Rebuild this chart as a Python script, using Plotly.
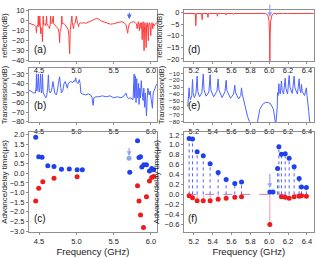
import plotly.graph_objects as go
from plotly.subplots import make_subplots

FONT = "Liberation Sans, Arial, sans-serif"

# ---------------- (a) reflection, left band ----------------
a_freq = [4.365, 4.40, 4.44, 4.458, 4.465, 4.472, 4.484, 4.49, 4.496, 4.504, 4.51, 4.516, 4.522, 4.528,
          4.538, 4.545, 4.55, 4.555, 4.56, 4.575, 4.59, 4.60, 4.606, 4.62, 4.632, 4.64, 4.648, 4.655,
          4.66, 4.672, 4.69, 4.696, 4.71, 4.73, 4.755, 4.768, 4.775, 4.782, 4.79, 4.798, 4.805, 4.812,
          4.83, 4.85, 4.87, 4.89, 4.90, 4.91, 4.918, 4.928, 4.94, 4.946, 4.955, 4.962, 4.97, 4.985,
          5.0, 5.006, 5.015, 5.025, 5.03, 5.036, 5.05, 5.07, 5.10, 5.13, 5.16, 5.20, 5.24, 5.27, 5.30,
          5.34, 5.38, 5.42, 5.46, 5.50, 5.53, 5.57, 5.61, 5.64, 5.665, 5.68, 5.688, 5.695, 5.71, 5.74,
          5.77, 5.79, 5.805, 5.815, 5.822, 5.83, 5.838, 5.845, 5.852, 5.86, 5.868, 5.875, 5.882, 5.888,
          5.895, 5.902, 5.908, 5.914, 5.92, 5.928, 5.935, 5.942, 5.95, 5.958, 5.965, 5.972, 5.98, 5.99,
          5.998, 6.005, 6.015, 6.025, 6.032, 6.045, 6.06, 6.08]
a_refl = [-2.5, -3.5, -4.5, -6, -12, -5, -5, 4.7, -6, -5, 4.7, -7, -13, -7,
          -10, -21, -9, 4.7, -4, -3, -5, 4.7, -3, -5, -6, -8, -4, 4.7,
          -2, -3, 4.7, -3, -4, -6, -8, -12, -22, -10, -10, -5, 4.7, -3,
          -3, -4, -6, -9, -15, -33, -10, -3, 4.7, -2, -5, -8, -3, -2,
          4.7, -2, -3, -4, -6, -3, -2, -2.5, -2, -2.5, -1.5, -0.5, 1, 2.3, 1.5,
          -0.5, -1.5, -2.5, -3.5, -3, -2, -1.5, -1, -2, -4, -9, -12.5, -8, -3, -1.5,
          -1, -2, -3, -8, -3, -1, -4, -10, -3, -2, -8, -2, -19, -3,
          -1, -12, -30, -6, -2, -10, -27, -4, -2, -8, -20, -3, -2, -6,
          -15, -3, -2, -8, -3, -5, -3, -2]

# ---------------- (b) transmission, left band ----------------
b_freq = [4.365, 4.40, 4.43, 4.45, 4.46, 4.465, 4.47, 4.48, 4.49, 4.50, 4.51, 4.52, 4.53, 4.54, 4.545,
          4.555, 4.57, 4.59, 4.60, 4.615, 4.625, 4.635, 4.65, 4.67, 4.685, 4.695, 4.71, 4.73, 4.745,
          4.76, 4.775, 4.79, 4.80, 4.82, 4.835, 4.85, 4.87, 4.88, 4.89, 4.92, 4.95, 4.97, 4.98, 4.99,
          5.00, 5.02, 5.04, 5.05, 5.06, 5.08, 5.12, 5.16, 5.19, 5.21, 5.225, 5.235, 5.26, 5.30, 5.35,
          5.40, 5.45, 5.50, 5.55, 5.60, 5.64, 5.665, 5.68, 5.70, 5.72, 5.74, 5.76, 5.775, 5.78, 5.79,
          5.80, 5.81, 5.82, 5.83, 5.835, 5.84, 5.85, 5.86, 5.87, 5.88, 5.895, 5.905, 5.915, 5.925,
          5.94, 5.95, 5.96, 5.975, 5.99, 6.00, 6.02, 6.03, 6.05, 6.07, 6.085]
b_trans = [-47, -49, -50, -50, -44, -30, -48, -44, -30, -49, -45, -30, -50, -46, -30,
           -50, -52, -55, -54, -45, -31, -47, -50, -47, -38, -46, -50, -52, -48,
           -40, -33, -44, -50, -47, -40, -38, -42, -45, -40, -38, -39, -37, -38, -34,
           -38, -40, -36, -40, -50, -51, -52, -51, -52, -55, -63, -55, -54, -54, -53,
           -54, -53, -55, -54, -55, -53, -50, -54, -56, -55, -56, -57, -30, -55, -32,
           -60, -35, -55, -48, -40, -62, -45, -55, -37, -48, -58, -45, -65, -50,
           -74, -55, -45, -52, -48, -55, -66, -50, -45, -42, -40]

# ---------------- (c) advance/delay time, left band ----------------
c_blue_freq = [4.455, 4.495, 4.54, 4.617, 4.70, 4.80, 4.905, 5.01, 5.08,
               5.716, 5.82, 5.84, 5.86, 5.878, 5.905, 5.94, 5.98, 6.01, 6.036]
c_blue_time = [1.87, 0.86, 0.83, 0.40, 0.35, 0.21, 0.23, 0.18, 0.18,
               0.05, 1.70, 0.82, 0.86, 0.33, 0.45, 0.45, 0.12, 0.25, 0.18]
c_red_freq = [4.455, 4.495, 4.55, 4.70, 5.01, 5.82, 5.84, 5.86, 5.90, 5.94, 5.98, 6.01, 6.036]
c_red_time = [-1.44, -0.78, -0.44, -0.26, -0.18, -0.64, -1.44, -2.17, -2.81, -1.22, -0.40, -0.22, -0.17]
c_mark_freq = [5.707]
c_mark_time = [0.78]

# ---------------- (d) reflection, right band ----------------
d_freq = [5.09, 5.215, 5.221, 5.227, 5.283, 5.288, 5.293, 5.345, 5.35, 5.355, 5.445, 5.45, 5.455,
          5.535, 5.54, 5.545, 5.615, 5.62, 5.625, 5.705, 5.71, 5.715, 5.96, 5.985, 5.998, 6.004,
          6.007, 6.010, 6.016, 6.03, 6.05, 6.075, 6.08, 6.085, 6.145, 6.15, 6.155, 6.195, 6.20,
          6.205, 6.255, 6.26, 6.265, 6.315, 6.32, 6.325, 6.48]
d_refl = [-0.3, -0.3, -5.6, -0.3, -0.3, -3.0, -0.3, -0.3, -2.0, -0.3, -0.3, -1.5, -0.3,
          -0.3, -1.0, -0.3, -0.3, -0.7, -0.3, -0.3, -0.5, -0.3, -0.3, -1.0, -3.5, -10,
          -21, -10, -3.5, -1.0, -0.3, -0.3, -0.8, -0.3, -0.3, -0.5, -0.3, -0.3, -0.6,
          -0.3, -0.3, -0.5, -0.3, -0.3, -0.4, -0.3, -0.3]

# ---------------- (e) transmission, right band ----------------
e_freq = [5.135, 5.145, 5.150, 5.155, 5.165, 5.178, 5.186, 5.192, 5.205, 5.222, 5.235, 5.242, 5.26,
          5.285, 5.300, 5.308, 5.33, 5.36, 5.373, 5.381, 5.41, 5.445, 5.458, 5.466, 5.50, 5.53,
          5.543, 5.551, 5.59, 5.622, 5.635, 5.643, 5.675, 5.698, 5.706, 5.714, 5.73, 5.75, 5.77,
          5.79, 5.80, 5.87, 5.885, 5.90, 5.93, 5.96, 5.99, 6.02, 6.045, 6.06, 6.07, 6.085, 6.089,
          6.095, 6.103, 6.108, 6.118, 6.13, 6.137, 6.152, 6.17, 6.177, 6.195, 6.212, 6.22, 6.245,
          6.265, 6.273, 6.30, 6.318, 6.326, 6.336, 6.343, 6.35, 6.375, 6.395, 6.40, 6.41, 6.42,
          6.43, 6.44]
e_trans = [-58, -42, -31, -44, -48, -42, -19, -38, -45, -40, -14, -36, -44,
           -38, -11, -34, -43, -37, -12, -34, -44, -36, -18, -34, -45, -37,
           -20, -35, -46, -40, -27, -38, -47, -42, -31, -40, -50, -60, -72,
           -80, -85, -85, -72, -62, -55, -52, -52, -55, -62, -75, -85, -60, -38,
           -42, -25, -36, -40, -21, -34, -40, -17, -32, -40, -13, -30, -39,
           -14, -31, -40, -18, -33, -38, -26, -36, -42, -31, -40, -50, -65,
           -80, -90]

# ---------------- (f) advance/delay time, right band ----------------
f_blue_freq = [5.150, 5.186, 5.235, 5.300, 5.373, 5.458, 5.543, 5.635, 5.706, 6.007, 6.040,
               6.089, 6.103, 6.130, 6.170, 6.212, 6.265, 6.318, 6.343, 6.395]
f_blue_time = [1.13, 1.12, 0.86, 0.78, 0.62, 0.44, 0.30, 0.22, 0.25, 0.05, 0.05,
               0.52, 0.96, 0.81, 0.82, 0.73, 0.56, 0.32, 0.15, 0.14]
f_red_freq = [5.150, 5.186, 5.235, 5.300, 5.373, 5.458, 5.543, 5.635, 5.706, 6.007,
              6.130, 6.170, 6.212, 6.265, 6.318, 6.343, 6.395]
f_red_time = [-0.03, -0.07, -0.13, -0.13, -0.13, -0.10, -0.08, -0.06, -0.05, -0.61,
              -0.05, -0.06, -0.08, -0.05, -0.04, -0.03, -0.04]

RED_LINE = "#ff3c3c"
BLUE_LINE = "#4d64ff"
RED_DOT = "#ee1b1b"
BLUE_DOT = "#1f3ff0"
LIGHT_BLUE = "#8ea6f5"
LIGHT_RED = "#f7a0a0"
FRAME = "#8f8f8f"

fig = make_subplots(rows=3, cols=2)

fig.add_trace(go.Scatter(x=a_freq, y=a_refl, mode="lines",
                         line=dict(color=RED_LINE, width=1)), row=1, col=1)
fig.add_trace(go.Scatter(x=b_freq, y=b_trans, mode="lines",
                         line=dict(color=BLUE_LINE, width=1)), row=2, col=1)
fig.add_trace(go.Scatter(x=c_blue_freq, y=c_blue_time, mode="markers",
                         marker=dict(color=BLUE_DOT, size=5)), row=3, col=1)
fig.add_trace(go.Scatter(x=c_red_freq, y=c_red_time, mode="markers",
                         marker=dict(color=RED_DOT, size=5)), row=3, col=1)
fig.add_trace(go.Scatter(x=c_mark_freq, y=c_mark_time, mode="markers",
                         marker=dict(color=LIGHT_BLUE, size=5)), row=3, col=1)
fig.add_trace(go.Scatter(x=d_freq, y=d_refl, mode="lines",
                         line=dict(color=RED_LINE, width=1)), row=1, col=2)
fig.add_trace(go.Scatter(x=e_freq, y=e_trans, mode="lines",
                         line=dict(color=BLUE_LINE, width=1)), row=2, col=2)

# stems for (f), built from the data arrays
sx, sy = [], []
for fx, fy in zip(f_blue_freq, f_blue_time):
    sx += [fx, fx, None]
    sy += [0, fy, None]
fig.add_trace(go.Scatter(x=sx, y=sy, mode="lines",
                         line=dict(color=BLUE_LINE, width=1, dash="dot")), row=3, col=2)
rx, ry = [], []
for fx, fy in zip(f_red_freq, f_red_time):
    rx += [fx, fx, None]
    ry += [0, fy, None]
fig.add_trace(go.Scatter(x=rx, y=ry, mode="lines",
                         line=dict(color=LIGHT_RED, width=1)), row=3, col=2)
fig.add_trace(go.Scatter(x=[5.13, 6.45], y=[0, 0], mode="lines",
                         line=dict(color="#c678c6", width=1, dash="dash")), row=3, col=2)
fig.add_trace(go.Scatter(x=f_blue_freq, y=f_blue_time, mode="markers",
                         marker=dict(color=BLUE_DOT, size=5)), row=3, col=2)
fig.add_trace(go.Scatter(x=f_red_freq, y=f_red_time, mode="markers",
                         marker=dict(color=RED_DOT, size=5)), row=3, col=2)

# domains (paper coordinates)
left_dom = [0.0915, 0.495]
right_dom = [0.580, 0.990]
row_dom = {1: [0.7636, 0.9612], 2: [0.527, 0.7364], 3: [0.1008, 0.4884]}

axis_common = dict(showline=True, linecolor=FRAME, linewidth=1, mirror=True,
                   showgrid=False, zeroline=False, ticks="outside", ticklen=2,
                   tickcolor=FRAME, automargin=False)

yranges = {(1, 1): [-40.3, 10.7], (2, 1): [-80.5, -23.8], (3, 1): [-3.05, 2.15],
           (1, 2): [-20.9, 1.2], (2, 2): [-80.4, -2.3], (3, 2): [-0.76, 1.26]}
ydticks = {(1, 1): 10, (2, 1): 10, (3, 1): 0.5, (1, 2): 5, (2, 2): 10, (3, 2): 0.2}
ytickfs = {(1, 1): 7.5, (2, 1): 7.5, (3, 1): 7.5, (1, 2): 7.5, (2, 2): 6.2, (3, 2): 7.5}
ytitles = {1: "reflection(dB)", 2: "Transmission(dB)", 3: "Advance/delay time(\u03bcs)"}

for r in (1, 2, 3):
    for c in (1, 2):
        xd = left_dom if c == 1 else right_dom
        xr = [4.365, 6.08] if c == 1 else [5.094, 6.474]
        fig.update_xaxes(domain=xd, range=xr, dtick=0.5 if c == 1 else 0.2,
                         tickformat=".1f", tickfont=dict(family=FONT, size=7.5, color="#222"),
                         row=r, col=c, **axis_common)
        fig.update_yaxes(domain=row_dom[r], range=yranges[(r, c)], dtick=ydticks[(r, c)],
                         tickformat=".1f" if r == 3 else "d",
                         tickfont=dict(family=FONT, size=ytickfs[(r, c)], color="#222"),
                         title=dict(text=ytitles[r], standoff=3,
                                    font=dict(family=FONT, size=8 if r == 3 else 7.5, color="#222")),
                         row=r, col=c, **axis_common)
        if r == 3:
            fig.update_xaxes(title=dict(text="Frequency (GHz)", standoff=2,
                                        font=dict(family=FONT, size=9.5, color="#222")),
                             row=r, col=c)

# panel labels
labels = [("(a)", "x", "y", 0.08), ("(d)", "x2", "y2", 0.08), ("(b)", "x3", "y3", 0.17),
          ("(e)", "x4", "y4", 0.17), ("(c)", "x5", "y5", 0.06), ("(f)", "x6", "y6", 0.06)]
for txt, xa, ya, yb in labels:
    fig.add_annotation(text=txt, xref=xa + " domain", yref=ya + " domain", x=0.02, y=yb,
                       xanchor="left", yanchor="bottom", showarrow=False,
                       font=dict(family=FONT, size=10, color="#111"))

# arrows
arrows = [("x", "y", 5.71, 1.5, 9.5, "#4d6cf0"),
          ("x2", "y2", 6.007, -1.8, 4.2, LIGHT_BLUE),
          ("x5", "y5", 5.707, 0.9, 1.4, LIGHT_BLUE),
          ("x6", "y6", 6.007, 0.13, 0.44, LIGHT_BLUE)]
for xa, ya, xv, yhead, ytail, col in arrows:
    fig.add_annotation(x=xv, y=yhead, ax=xv, ay=ytail, xref=xa, yref=ya, axref=xa, ayref=ya,
                       showarrow=True, arrowhead=2, arrowsize=0.8, arrowwidth=1.2,
                       arrowcolor=col, text="")

fig.update_layout(width=317, height=258, margin=dict(l=0, r=0, t=0, b=0, autoexpand=False),
                  paper_bgcolor="white", plot_bgcolor="white", showlegend=False,
                  font=dict(family=FONT, size=8, color="#222"))

fig.write_html("out.html", config={"displayModeBar": False, "staticPlot": True},
               post_script="document.body.style.margin='0';document.body.style.overflow='hidden';")
